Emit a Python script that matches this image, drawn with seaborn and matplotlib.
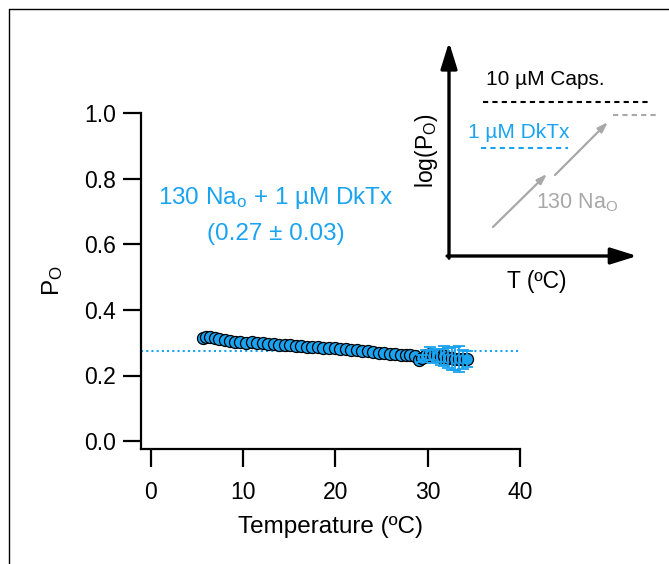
import numpy as np
import pandas as pd
import seaborn as sns
import matplotlib.pyplot as plt

# Po vs temperature, 130 Nao + 1 uM DkTx
temp = [5.6, 6.0, 6.4, 6.9, 7.4, 8.0, 8.6, 9.1, 9.7, 10.3, 10.9, 11.5, 12.1, 12.7,
        13.3, 13.9, 14.5, 15.1, 15.7, 16.3, 16.9, 17.5, 18.1, 18.7, 19.3, 19.9,
        20.5, 21.1, 21.7, 22.3, 22.9, 23.5, 24.1, 24.7, 25.3, 25.9, 26.5, 27.1,
        27.6, 28.1, 28.6, 29.0, 29.4, 29.8, 30.2, 30.6, 31.0, 31.4, 31.8, 32.2,
        32.6, 33.0, 33.4, 33.8, 34.3]
po = [0.314, 0.318, 0.316, 0.313, 0.311, 0.309, 0.305, 0.303, 0.302, 0.300, 0.301,
      0.300, 0.298, 0.297, 0.295, 0.294, 0.292, 0.292, 0.290, 0.289, 0.288, 0.287,
      0.287, 0.285, 0.284, 0.283, 0.282, 0.281, 0.279, 0.277, 0.275, 0.274, 0.272,
      0.270, 0.268, 0.267, 0.265, 0.264, 0.262, 0.262, 0.260, 0.248, 0.252, 0.262,
      0.266, 0.258, 0.262, 0.257, 0.259, 0.254, 0.253, 0.251, 0.250, 0.249, 0.250]
po_err = [0.0] * 42 + [0.01, 0.015, 0.02, 0.02, 0.02, 0.025, 0.03, 0.03, 0.035,
                       0.035, 0.04, 0.03, 0.025]
mean_po = 0.275

blue = '#1aa3f0'
gray = '#a8a8a8'

df = pd.DataFrame({'Temperature': temp, 'Po': po, 'err': po_err})

sns.set_style('ticks')
plt.rcParams['font.family'] = ['Liberation Sans', 'DejaVu Sans']
plt.rcParams['mathtext.default'] = 'regular'
for k in ['text.color', 'axes.labelcolor', 'xtick.color', 'ytick.color', 'axes.edgecolor']:
    plt.rcParams[k] = 'black'

fig = plt.figure(figsize=(6.69, 5.64), dpi=100)

# figure frame (open at bottom/right like the crop)
fig.add_artist(plt.Line2D([9/669, 9/669], [0, 1 - 9/564], color='black', lw=1))
fig.add_artist(plt.Line2D([9/669, 1], [1 - 9/564, 1 - 9/564], color='black', lw=1))

ax = fig.add_axes([141/669, 1 - 449/564, 379/669, 336/564])
ax.axhline(mean_po, color=blue, ls=(0, (1, 1.5)), lw=1.5, zorder=1)
sns.scatterplot(data=df, x='Temperature', y='Po', ax=ax, color=blue,
                edgecolor='black', linewidth=0.9, s=75, zorder=3, legend=False)
e = df[df['err'] > 0]
ax.errorbar(e['Temperature'], e['Po'], yerr=e['err'], fmt='none', ecolor=blue,
            elinewidth=1.3, capsize=4, capthick=1.3, zorder=4)

ax.set_xlim(-1.08, 40)
ax.set_ylim(-0.024, 1.0)
ax.set_xticks([0, 10, 20, 30, 40])
ax.set_yticks([0.0, 0.2, 0.4, 0.6, 0.8, 1.0])
ax.set_yticklabels(['0.0', '0.2', '0.4', '0.6', '0.8', '1.0'])
sns.despine(ax=ax)
for s in ['left', 'bottom']:
    ax.spines[s].set_linewidth(1.6)
ax.tick_params(axis='both', labelsize=16.5, length=13, width=1.6)
ax.tick_params(axis='x', pad=10)
ax.tick_params(axis='y', pad=5)
ax.set_xlabel('Temperature (ºC)', fontsize=17.5, labelpad=9)
ax.set_ylabel('P$_O$', fontsize=17.5, labelpad=14)

ax.text(13.5, 0.74, '130 Na$_o$ + 1 µM DkTx', color=blue, fontsize=17.5,
        ha='center', va='center')
ax.text(13.5, 0.63, '(0.27 ± 0.03)', color=blue, fontsize=17.5,
        ha='center', va='center')

# schematic inset
ins = fig.add_axes([449/669, 1 - 256/564, 191/669, 216/564])
ins.set_xlim(0, 1)
ins.set_ylim(0, 1)
ins.axis('off')
head = dict(arrowstyle='-|>,head_length=1.6,head_width=0.5', color='black', lw=2.4,
            shrinkA=0, shrinkB=0)
ins.annotate('', xy=(0, 0.99), xytext=(0, -0.01), arrowprops=head, annotation_clip=False)
ins.annotate('', xy=(0.985, 0), xytext=(-0.01, 0), arrowprops=head, annotation_clip=False)
ins.text(-0.12, 0.49, 'log(P$_O$)', rotation=90, ha='center', va='center', fontsize=16.5)
ins.text(0.46, -0.12, 'T (ºC)', ha='center', va='center', fontsize=16.5)

ins.plot([0.178, 1.052], [0.713, 0.713], color='black', ls=(0, (2.5, 2)), lw=1.5,
         clip_on=False)
ins.text(0.503, 0.815, '10 µM Caps.', ha='center', va='center', fontsize=15)
ins.plot([0.168, 0.623], [0.5, 0.5], color=blue, ls=(0, (2.5, 2)), lw=1.5)
ins.text(0.366, 0.574, '1 µM DkTx', ha='center', va='center', fontsize=15, color=blue)

garrow = dict(arrowstyle='-|>,head_length=0.6,head_width=0.2', color=gray, lw=1.6,
              shrinkA=0, shrinkB=0)
ins.annotate('', xy=(0.513, 0.38), xytext=(0.23, 0.134), arrowprops=garrow)
ins.annotate('', xy=(0.832, 0.62), xytext=(0.555, 0.375), arrowprops=garrow)
ins.plot([0.859, 1.094], [0.653, 0.653], color=gray, ls=(0, (2.5, 2)), lw=1.5,
         clip_on=False)
ins.text(0.67, 0.245, '130 Na$_O$', ha='center', va='center', fontsize=15.5, color=gray)

fig.savefig('out.png', dpi=100)
